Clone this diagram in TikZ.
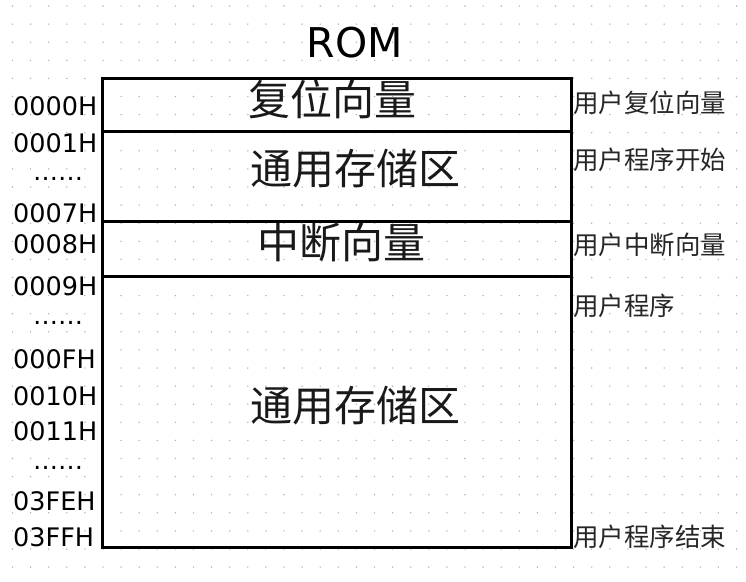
\documentclass[tikz,border=0pt]{standalone}
\usepackage{fontspec}
\setmainfont{DejaVu Sans}
\newfontfamily\cjk{Noto Sans CJK SC}
\tikzset{
  seg/.style={draw=black, line width=3pt, minimum width=469pt, inner sep=0pt},
  addr/.style={anchor=west, inner sep=0pt, font=\fontsize{25.5}{28}\selectfont},
  ell/.style={inner sep=0pt, font=\fontsize{25}{28}\selectfont},
  note/.style={anchor=west, inner sep=0pt, font=\cjk\fontsize{25.5}{28}\selectfont, text=black!85},
  area/.style={inner sep=0pt, font=\cjk\fontsize{42}{46}\selectfont, text=black!90},
  title/.style={inner sep=0pt, font=\fontsize{41}{46}\selectfont},
}
\begin{document}
\begin{tikzpicture}[x=1pt, y=-1pt]
\useasboundingbox (0,0) rectangle (746,581);
% dotted grid background
\foreach \i in {0,...,40}{
  \foreach \j in {0,...,31}{
    \fill[black!30] (12.5+\i*18.1, 6+\j*18.1) circle (0.8pt);
  }
}
% title
\node[title] (rom) at (355,43) {ROM};
% memory segments
\node[seg, minimum height=53pt] (s1) at (336.5,104.5) {};
\node[seg, minimum height=90pt] (s2) at (336.5,176) {};
\node[seg, minimum height=55pt] (s3) at (336.5,248.5) {};
\node[seg, minimum height=271pt] (s4) at (336.5,411.5) {};
% segment texts
\node[area] (t1) at (332,99) {复位向量};
\node[area] (t2) at (355,169) {通用存储区};
\node[area] (t3) at (341,243) {中断向量};
\node[area] (t4) at (355,406) {通用存储区};
% addresses
\node[addr] (a1) at (13,106) {0000H};
\node[addr] (a2) at (13,143) {0001H};
\node[ell] (d1) at (58,179) {……};
\node[addr] (a3) at (13,213) {0007H};
\node[addr] (a4) at (13,244) {0008H};
\node[addr] (a5) at (13,286) {0009H};
\node[ell] (d2) at (58,323) {……};
\node[addr] (a6) at (13,359) {000FH};
\node[addr] (a7) at (13,396) {0010H};
\node[addr] (a8) at (13,431) {0011H};
\node[ell] (d3) at (58,468) {……};
\node[addr] (a9) at (13,501) {03FEH};
\node[addr] (a10) at (13,537) {03FFH};
% notes
\node[note] (n1) at (573,103) {用户复位向量};
\node[note] (n2) at (573,160) {用户程序开始};
\node[note] (n3) at (573,245) {用户中断向量};
\node[note] (n4) at (573,306) {用户程序};
\node[note] (n5) at (573,537) {用户程序结束};
\end{tikzpicture}
\end{document}
